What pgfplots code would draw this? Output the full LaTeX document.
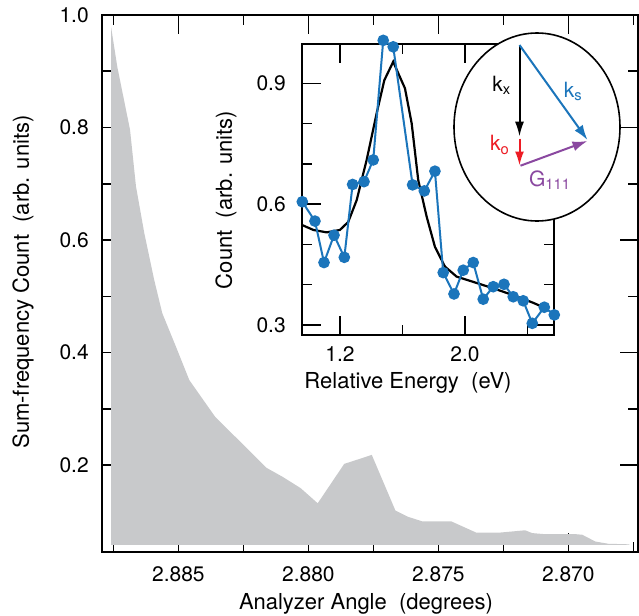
\documentclass[border=0pt]{standalone}
\usepackage{fontspec}
\setmainfont{TeX Gyre Heros}
\usepackage{pgfplots}
\pgfplotsset{compat=1.18}
\usetikzlibrary{arrows.meta}
\definecolor{fillgray}{RGB}{200,201,203}
\definecolor{dblue}{RGB}{27,117,187}
\definecolor{kred}{RGB}{237,28,36}
\definecolor{kpurple}{RGB}{138,72,160}
\pgfplotsset{
  mystyle/.style={
    scale only axis,
    axis line style={line width=1pt},
    tick style={line width=0.75pt, black},
    major tick length=9.5pt, minor tick length=5pt,
    tick label style={font=\fontsize{10.5}{12}\selectfont, inner sep=0pt},
    label style={font=\fontsize{11}{13}\selectfont},
  }
}
\begin{document}
\begin{tikzpicture}
\begin{axis}[mystyle,
  name=main,
  at={(50.85pt,-275.85pt)}, anchor=south west,
  width=268.4pt, height=268.35pt,
  x dir=reverse,
  xmin=2.86730, xmax=2.88795,
  ymin=0.0459, ymax=1.0,
  yticklabel style={anchor=east, xshift=-6.3pt},
  xticklabel style={anchor=north, yshift=-7.5pt},
  xtick={2.870,2.875,2.880,2.885},
  xticklabels={2.870,2.875,2.880,2.885},
  minor xtick={2.8675,2.8725,2.8775,2.8825,2.8875},
  ytick={0.2,0.4,0.6,0.8,1.0},
  yticklabels={0.2,0.4,0.6,0.8,1.0},
  minor ytick={0.3,0.5,0.7,0.9},
  xlabel={Analyzer Angle\ \ (degrees)},
  ylabel={Sum-frequency Count\ \ (arb. units)},
  xlabel style={at={(axis description cs:0.4924,-0.0974)}, anchor=center},
  ylabel style={at={(axis description cs:-0.1466,0.5025)}, anchor=center},
]
\addplot[fill=fillgray, draw=none] coordinates {
  (2.88759,0.058) (2.88759,0.979) (2.88735,0.908) (2.88686,0.796)
  (2.88663,0.695) (2.88631,0.612) (2.88593,0.529) (2.88562,0.470)
  (2.88509,0.410) (2.88458,0.351) (2.88359,0.286) (2.88161,0.195)
  (2.88099,0.179) (2.88030,0.159) (2.87964,0.132) (2.87862,0.202)
  (2.87802,0.211) (2.87756,0.218) (2.87665,0.119) (2.87617,0.108)
  (2.87563,0.100) (2.87451,0.100) (2.87355,0.080) (2.87260,0.080)
  (2.87166,0.084) (2.87139,0.079) (2.87089,0.077) (2.86970,0.077)
  (2.86946,0.076) (2.86896,0.064) (2.86846,0.060) (2.86765,0.059)
  (2.86765,0.058)
};
\end{axis}

\begin{axis}[mystyle,
  name=inset,
  at={(151.15pt,-167.5pt)}, anchor=south west,
  width=125.85pt, height=145.5pt,
  xmin=0.959, xmax=2.570,
  ymin=0.275, ymax=0.998,
  xtick={1.2,2.0}, xticklabels={1.2,2.0},
  minor xtick={1.6,2.4},
  ytick={0.3,0.6,0.9}, yticklabels={0.3,0.6,0.9},
  minor ytick={0.4,0.5,0.7,0.8},
  clip=false,
  axis background/.style={fill=white},
  yticklabel style={anchor=east, xshift=-8.1pt},
  xticklabel style={anchor=north, yshift=-5.8pt},
  xlabel={Relative Energy\ \ (eV)},
  ylabel={Count\ \ (arb. units)},
  xlabel style={at={(axis description cs:0.42,-0.166)}, anchor=center},
  ylabel style={at={(axis description cs:-0.303,0.464)}, anchor=center},
]
\addplot[black, line width=1.1pt] coordinates {
  (0.959,0.548) (1.030,0.536) (1.115,0.530) (1.200,0.536) (1.253,0.556)
  (1.307,0.610) (1.371,0.710) (1.435,0.826) (1.484,0.908) (1.541,0.954)
  (1.578,0.921) (1.616,0.888) (1.659,0.801) (1.701,0.660) (1.755,0.569)
  (1.808,0.494) (1.872,0.445) (1.947,0.420) (2.053,0.407) (2.181,0.391)
  (2.309,0.374) (2.437,0.355) (2.501,0.344) (2.533,0.339)
};
\addplot[dblue, line width=1pt, mark=*, mark size=2.4pt,
  mark options={fill=dblue, draw=dblue, solid}] coordinates {
  (0.959,0.606) (1.040,0.558) (1.098,0.455) (1.162,0.523) (1.228,0.468)
  (1.281,0.649) (1.354,0.656) (1.413,0.710) (1.477,1.007) (1.541,0.991)
  (1.665,0.648) (1.740,0.633) (1.808,0.682) (1.861,0.430) (1.930,0.377)
  (1.989,0.436) (2.053,0.455) (2.117,0.364) (2.181,0.395) (2.250,0.401)
  (2.309,0.370) (2.373,0.360) (2.431,0.304) (2.508,0.344) (2.572,0.325)
};
\end{axis}

\begin{scope}[x=0.5pt, y=-0.5pt]
  \draw[line width=0.8pt, fill=white] (537,127) ellipse [x radius=83, y radius=94];
  \draw[line width=1pt, black, -{Latex[length=7.5pt,width=4.5pt]}] (519.5,45) -- (519.5,136.7);
  \draw[line width=1pt, kred, -{Latex[length=7pt,width=4.5pt]}] (519.5,138.5) -- (519.5,165.5);
  \draw[line width=1pt, dblue, -{Latex[length=7.5pt,width=5pt]}] (519.5,45) -- (587.5,140);
  \draw[line width=1pt, kpurple, -{Latex[length=7.5pt,width=5pt]}] (520.5,165.7) -- (587.5,141);
  \node[font=\fontsize{10.5}{12}\selectfont, black] at (501.7,85) {k\textsubscript{x}};
  \node[font=\fontsize{10.5}{12}\selectfont, kred] at (500,145) {k\textsubscript{o}};
  \node[font=\fontsize{10.5}{12}\selectfont, dblue] at (573.3,91.7) {k\textsubscript{s}};
  \node[font=\fontsize{10.5}{12}\selectfont, kpurple] at (550,180) {G\textsubscript{111}};
\end{scope}

\pgfresetboundingbox
\path[use as bounding box] (0pt,0pt) rectangle (319.5pt,-308pt);
\end{tikzpicture}
\end{document}
